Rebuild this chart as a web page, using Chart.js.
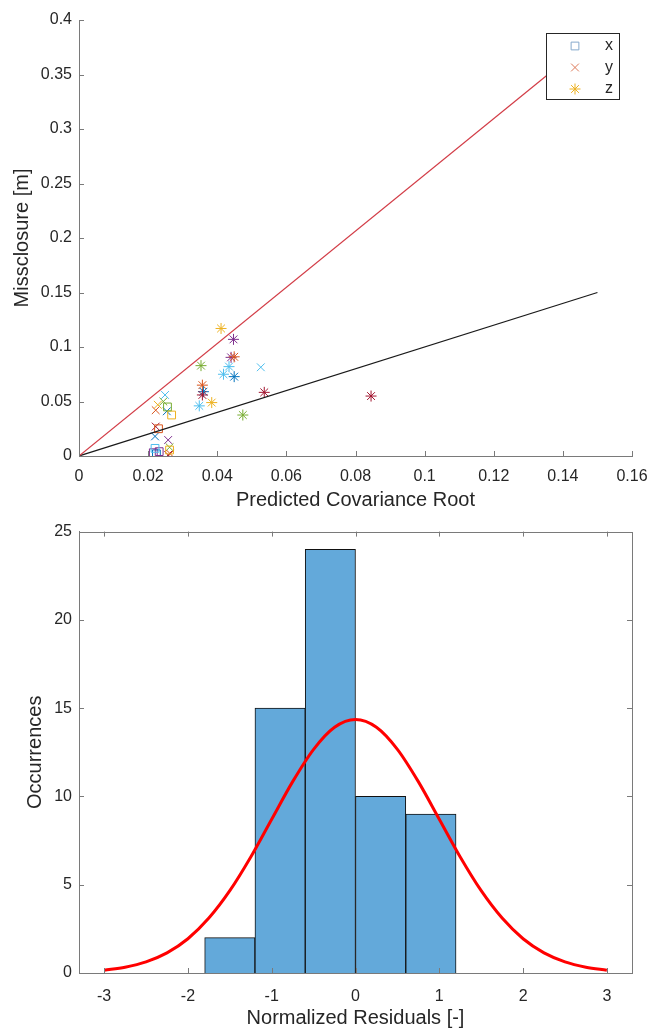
<!DOCTYPE html>
<html>
<head>
<meta charset="utf-8">
<title>Missclosure / Normalized Residuals</title>
<script src="https://cdn.jsdelivr.net/npm/chart.js@4.4.1/dist/chart.umd.min.js"></script>
<style>
  html, body { margin: 0; padding: 0; background: #fff; }
  #wrap { position: relative; width: 649px; height: 1030px; }
  canvas { position: absolute; left: 0; }
  #scatter-chart { top: 0; }
  #hist-chart { top: 515px; }
</style>
</head>
<body>
<div id="wrap">
  <canvas id="scatter-chart" width="649" height="515"></canvas>
  <canvas id="hist-chart" width="649" height="515"></canvas>
</div>
<script>
'use strict';

// ---- Top panel data ----
var xTicks = [0, 0.02, 0.04, 0.06, 0.08, 0.1, 0.12, 0.14, 0.16];
var xTickLabels = ['0', '0.02', '0.04', '0.06', '0.08', '0.1', '0.12', '0.14', '0.16'];
var yTicks = [0, 0.05, 0.1, 0.15, 0.2, 0.25, 0.3, 0.35, 0.4];
var yTickLabels = ['0', '0.05', '0.1', '0.15', '0.2', '0.25', '0.3', '0.35', '0.4'];

// x component (squares)
var sqX = [0.0215, 0.0224, 0.0232, 0.0220, 0.0262, 0.0230, 0.0268, 0.0256];
var sqY = [0.003, 0.002, 0.004, 0.007, 0.0055, 0.025, 0.0376, 0.045];
// y component (crosses)
var crX = [0.0222, 0.0228, 0.0244, 0.0249, 0.0254, 0.0222, 0.0220, 0.0258, 0.0262, 0.0264, 0.0258, 0.0526];
var crY = [0.042, 0.047, 0.050, 0.056, 0.041, 0.027, 0.018, 0.0147, 0.008, 0.002, 0.001, 0.0814];
// z component (asterisks)
var stX = [0.0411, 0.0447, 0.0440, 0.0449, 0.0434, 0.0418, 0.0449, 0.0353, 0.0357, 0.0360, 0.0357, 0.0348, 0.0384, 0.0536, 0.0474, 0.0845];
var stY = [0.117, 0.107, 0.0905, 0.091, 0.082, 0.075, 0.0728, 0.0829, 0.065, 0.059, 0.056, 0.046, 0.049, 0.0584, 0.0376, 0.055];

// reference lines
var redLineX = [0, 0.15];
var redLineY = [0, 0.387];
var blackLineX = [0, 0.15];
var blackLineY = [0, 0.15];

// ---- Bottom panel data ----
var binEdges = [-1.8, -1.2, -0.6, 0, 0.6, 1.2];
var binCounts = [2, 15, 24, 10, 9];
var curveX = [-3, -2.75, -2.5, -2.25, -2, -1.75, -1.5, -1.25, -1, -0.75, -0.5, -0.25, 0,
  0.25, 0.5, 0.75, 1, 1.25, 1.5, 1.75, 2, 2.25, 2.5, 2.75, 3];
var curveY = [0.16, 0.33, 0.63, 1.14, 1.94, 3.11, 4.66, 6.57, 8.71, 10.84, 12.67, 13.92, 14.36,
  13.92, 12.67, 10.84, 8.71, 6.57, 4.66, 3.11, 1.94, 1.14, 0.63, 0.33, 0.16];
var histXTicks = [-3, -2, -1, 0, 1, 2, 3];
var histXTickLabels = ['-3', '-2', '-1', '0', '1', '2', '3'];
var histYTicks = [0, 5, 10, 15, 20, 25];
var histYTickLabels = ['0', '5', '10', '15', '20', '25'];

// ---- Colours ----
var C = {
  blue: '#0072BD', orange: '#D95319', yellow: '#EDB120', purple: '#7E2F8E',
  green: '#77AC30', light: '#4DBEEE', dred: '#A2142F'
};
var sqColors = [C.purple, C.blue, C.purple, C.light, C.yellow, C.orange, C.yellow, C.green];
var crColors = [C.orange, C.yellow, C.green, C.light, C.blue, C.dred, C.blue, C.purple, C.green, C.orange, C.dred, C.light];
var stColors = [C.yellow, C.purple, C.purple, C.orange, C.light, C.light, C.blue, C.green, C.orange, C.blue, C.dred, C.light, C.yellow, C.dred, C.green, C.dred];

var AXIS = '#7a7a7a';
var TEXT = '#262626';
var FONT = "'Liberation Sans', Arial, sans-serif";

function zip(xs, ys) {
  return xs.map(function(x, i) { return { x: x, y: ys[i] }; });
}

function fixedTicks(values) {
  return function(scale) {
    scale.ticks = values.map(function(v) { return { value: v }; });
  };
}

// ---- Inward tick marks (+ optional full box) ----
var inwardTicks = {
  id: 'inwardTicks',
  afterDatasetsDraw: function(chart, args, opts) {
    var ctx = chart.ctx, a = chart.chartArea, len = 5;
    var xs = chart.scales.x, ys = chart.scales.y;
    ctx.save();
    ctx.strokeStyle = AXIS;
    ctx.lineWidth = 1;
    ctx.beginPath();
    xs.ticks.forEach(function(t, i) {
      var px = Math.round(xs.getPixelForTick(i)) + 0.5;
      ctx.moveTo(px, a.bottom); ctx.lineTo(px, a.bottom - len);
      if (opts.box) { ctx.moveTo(px, a.top); ctx.lineTo(px, a.top + len); }
    });
    ys.ticks.forEach(function(t, i) {
      var py = Math.round(ys.getPixelForTick(i)) + 0.5;
      ctx.moveTo(a.left, py); ctx.lineTo(a.left + len, py);
      if (opts.box) { ctx.moveTo(a.right, py); ctx.lineTo(a.right - len, py); }
    });
    ctx.stroke();
    if (opts.box) {
      ctx.strokeRect(Math.round(a.left) + 0.5, Math.round(a.top) + 0.5,
        Math.round(a.right - a.left), Math.round(a.bottom - a.top));
    }
    ctx.restore();
  }
};

// ---- Legend box drawn inside the plot (top-right) ----
var boxLegend = {
  id: 'boxLegend',
  afterDatasetsDraw: function(chart) {
    var ctx = chart.ctx, a = chart.chartArea;
    var w = 73, h = 66;
    var x0 = a.right - 13 - w, y0 = a.top + 13;
    var entries = [
      { text: 'x', style: 'rect', color: '#86A9CC', r: 5.5 },
      { text: 'y', style: 'crossRot', color: '#DE7A5A', r: 5.5 },
      { text: 'z', style: 'star', color: '#EDB120', r: 5.5 }
    ];
    ctx.save();
    ctx.fillStyle = '#fff';
    ctx.fillRect(x0, y0, w, h);
    ctx.strokeStyle = TEXT;
    ctx.lineWidth = 1;
    ctx.strokeRect(Math.round(x0) + 0.5, Math.round(y0) + 0.5, w, h);
    ctx.font = '16px ' + FONT;
    ctx.textAlign = 'center';
    ctx.textBaseline = 'middle';
    entries.forEach(function(e, i) {
      var cy = y0 + 13 + i * 21.5;
      ctx.strokeStyle = e.color;
      ctx.fillStyle = 'rgba(0,0,0,0)';
      ctx.lineWidth = 1;
      Chart.helpers.drawPoint(ctx, { pointStyle: e.style, radius: e.r, borderWidth: 1 }, x0 + 29, cy);
      ctx.fillStyle = TEXT;
      ctx.fillText(e.text, x0 + 63, cy);
    });
    ctx.restore();
  }
};

function axisOpts(min, max, ticks, labels, fit, title, titlePad, labelPad) {
  return {
    type: 'linear',
    min: min,
    max: max,
    grid: { display: false, drawTicks: false },
    border: { display: true, color: AXIS, width: 1 },
    afterBuildTicks: fixedTicks(ticks),
    afterFit: fit,
    ticks: {
      color: TEXT,
      padding: labelPad,
      maxRotation: 0,
      autoSkip: false,
      font: { family: FONT, size: 16 },
      callback: function(v, i) { return labels[i]; }
    },
    title: {
      display: true,
      text: title,
      color: TEXT,
      font: { family: FONT, size: 20 },
      padding: titlePad
    }
  };
}

// fixed-size x axis that does not push the plot edges in
function fitX(h) {
  return function(s) {
    s.height = h;
    s.paddingLeft = 0;
    s.paddingRight = 0;
  };
}

function renderScatter() {
  var canvas = document.getElementById('scatter-chart');
  new Chart(canvas, {
    type: 'scatter',
    data: {
      datasets: [
        {
          label: 'red',
          data: zip(redLineX, redLineY),
          showLine: true,
          borderColor: '#D23C46',
          borderWidth: 1.2,
          pointRadius: 0
        },
        {
          label: 'black',
          data: zip(blackLineX, blackLineY),
          showLine: true,
          borderColor: '#1a1a1a',
          borderWidth: 1.2,
          pointRadius: 0
        },
        {
          label: 'x',
          data: zip(sqX, sqY),
          pointStyle: 'rect',
          pointRadius: 5.5,
          pointBorderWidth: 1,
          pointBorderColor: sqColors,
          pointBackgroundColor: 'rgba(0,0,0,0)'
        },
        {
          label: 'y',
          data: zip(crX, crY),
          pointStyle: 'crossRot',
          pointRadius: 5.5,
          pointBorderWidth: 1,
          pointBorderColor: crColors,
          pointBackgroundColor: 'rgba(0,0,0,0)'
        },
        {
          label: 'z',
          data: zip(stX, stY),
          pointStyle: 'star',
          pointRadius: 5.5,
          pointBorderWidth: 1,
          pointBorderColor: stColors,
          pointBackgroundColor: 'rgba(0,0,0,0)'
        }
      ]
    },
    options: {
      responsive: false,
      animation: false,
      layout: { padding: { top: 20, right: 17, left: 0, bottom: 0 } },
      plugins: {
        legend: { display: false },
        tooltip: { enabled: false },
        inwardTicks: { box: false }
      },
      scales: {
        x: axisOpts(0, 0.16, xTicks, xTickLabels,
          fitX(59), 'Predicted Covariance Root', { top: 0, bottom: 3 }, 11),
        y: axisOpts(0, 0.4, yTicks, yTickLabels,
          function(s) { s.width = 79; }, 'Missclosure [m]', { top: 10, bottom: 0 }, 7)
      }
    },
    plugins: [inwardTicks, boxLegend]
  });
}

function renderHistogram() {
  var canvas = document.getElementById('hist-chart');
  var bars = binCounts.map(function(c, i) {
    return { x: (binEdges[i] + binEdges[i + 1]) / 2, y: c };
  });
  new Chart(canvas, {
    type: 'bar',
    data: {
      datasets: [
        {
          type: 'line',
          label: 'fit',
          data: zip(curveX, curveY),
          borderColor: '#FF0000',
          borderWidth: 3,
          pointRadius: 0,
          cubicInterpolationMode: 'monotone',
          order: 0
        },
        {
          type: 'bar',
          label: 'hist',
          data: bars,
          backgroundColor: '#63A9DA',
          borderColor: '#111',
          borderWidth: 1,
          barPercentage: 1,
          categoryPercentage: 1,
          order: 1
        }
      ]
    },
    options: {
      responsive: false,
      animation: false,
      layout: { padding: { top: 13, right: 17, left: 0, bottom: 0 } },
      plugins: {
        legend: { display: false },
        tooltip: { enabled: false },
        inwardTicks: { box: true }
      },
      scales: {
        x: Object.assign(axisOpts(-3.3, 3.3, histXTicks, histXTickLabels,
          fitX(57), 'Normalized Residuals [-]', { top: 0, bottom: 0 }, 14), { offset: false }),
        y: axisOpts(0, 25, histYTicks, histYTickLabels,
          function(s) { s.width = 79; }, 'Occurrences', { top: 23, bottom: 0 }, 7)
      }
    },
    plugins: [inwardTicks]
  });
}

renderScatter();
renderHistogram();
</script>
</body>
</html>
